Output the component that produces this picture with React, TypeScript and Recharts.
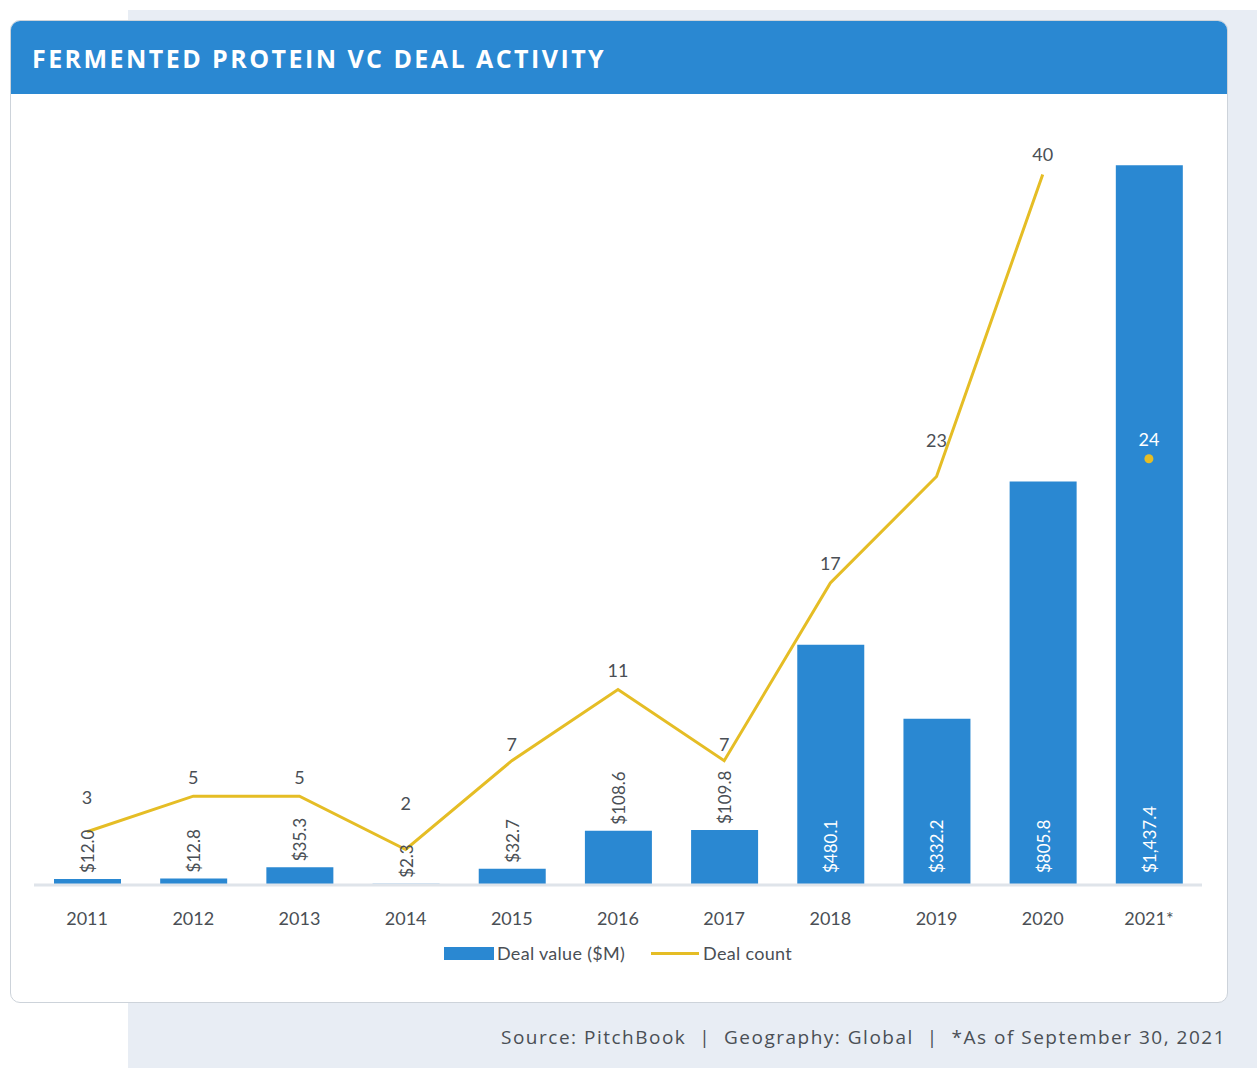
import React from "react";
import { ComposedChart, Bar, Line, XAxis, YAxis, Legend, LabelList } from "recharts";

const years = ["2011", "2012", "2013", "2014", "2015", "2016", "2017", "2018", "2019", "2020", "2021*"];
const dealValue = [12.0, 12.8, 35.3, 2.3, 32.7, 108.6, 109.8, 480.1, 332.2, 805.8, 1437.4];
const dealCount = [3, 5, 5, 2, 7, 11, 7, 17, 23, 40, null];
const partialCount = [null, null, null, null, null, null, null, null, null, null, 24];

// how far each count label sits above its point (dodges the bar labels)
const countLabelLift = [35, 19, 19, 46, 17, 20, 17, 20, 36, 21, 20];

const data = years.map((year, i) => ({
  year,
  value: dealValue[i],
  count: dealCount[i],
  partial: partialCount[i],
}));

const BLUE = "#2a88d2";
const YELLOW = "#e5bd25";
const TEXT = "#4a4f55";
const FONT = "Lato, 'Noto Sans', sans-serif";

const fmt = (v: number) =>
  "$" + v.toLocaleString("en-US", { minimumFractionDigits: 1, maximumFractionDigits: 1 });

const BarValueLabel = (props: any) => {
  const { x, y, width, height, value } = props;
  const cx = x + width / 2;
  const inside = value > 300;
  const startY = inside ? y + height - 12 : y - 6;
  return (
    <text
      x={cx}
      y={startY}
      transform={`rotate(-90 ${cx} ${startY})`}
      textAnchor="start"
      dominantBaseline="central"
      fill={inside ? "#ffffff" : TEXT}
      fontSize={17}
      fontFamily={FONT}
    >
      {fmt(value)}
    </text>
  );
};

const makeCountLabel = (color: string) => (props: any) => {
  const { x, y, value, index } = props;
  if (value == null) return null;
  return (
    <text
      x={x}
      y={y - countLabelLift[index]}
      textAnchor="middle"
      dominantBaseline="central"
      fill={color}
      fontSize={18}
      fontFamily={FONT}
    >
      {value}
    </text>
  );
};

const LegendContent = () => (
  <div
    style={{
      display: "flex",
      justifyContent: "center",
      alignItems: "center",
      fontFamily: FONT,
      fontSize: 18,
      color: TEXT,
      height: 30,
      position: "relative",
      top: -5,
    }}
  >
    <span style={{ display: "inline-block", width: 50, height: 13, background: BLUE, marginRight: 3 }} />
    <span style={{ letterSpacing: 0.3 }}>Deal value ($M)</span>
    <span style={{ display: "inline-block", width: 48, height: 3, background: YELLOW, margin: "0 4px 0 26px" }} />
    <span style={{ letterSpacing: 0.3 }}>Deal count</span>
  </div>
);

export default function App() {
  return (
    <div style={{ position: "absolute", left: 0, top: 0, width: 1257, height: 1068, background: "#fff", overflow: "hidden" }}>
      <div style={{ position: "absolute", left: 128, top: 10, width: 1129, height: 1058, background: "#e8edf4" }} />
      <div
        style={{
          position: "absolute",
          left: 10,
          top: 20,
          width: 1216,
          height: 981,
          background: "#fff",
          border: "1px solid #cdd3da",
          borderRadius: 10,
          overflow: "hidden",
        }}
      >
        <div style={{ height: 73, background: BLUE, position: "relative" }}>
          <div
            style={{
              position: "absolute",
              left: 21,
              top: 22,
              color: "#fff",
              fontFamily: "'Open Sans', 'Noto Sans', sans-serif",
              fontWeight: 700,
              fontSize: 25,
              letterSpacing: 2.45,
              lineHeight: "30px",
            }}
          >
            FERMENTED PROTEIN VC DEAL ACTIVITY
          </div>
        </div>
        <div style={{ position: "absolute", left: -1, top: 72 }}>
          <ComposedChart
            width={1218}
            height={900}
            data={data}
            margin={{ top: 46, right: 26, left: 24, bottom: 20 }}
            barCategoryGap="36%"
          >
            <XAxis
              dataKey="year"
              tickLine={false}
              tickSize={0}
              tickMargin={27}
              axisLine={{ stroke: "#dfe4ea", strokeWidth: 3 }}
              tick={{ fill: TEXT, fontSize: 18, fontFamily: FONT }}
              height={58}
              interval={0}
            />
            <YAxis yAxisId="val" hide domain={[0, 1490]} />
            <YAxis yAxisId="cnt" hide orientation="right" domain={[0, 42]} />
            <Legend verticalAlign="bottom" height={30} content={<LegendContent />} />
            <Bar yAxisId="val" dataKey="value" name="Deal value ($M)" fill={BLUE} barSize={67} isAnimationActive={false}>
              <LabelList dataKey="value" content={BarValueLabel} />
            </Bar>
            <Line
              yAxisId="cnt"
              dataKey="count"
              name="Deal count"
              stroke={YELLOW}
              strokeWidth={3}
              dot={false}
              activeDot={false}
              connectNulls={false}
              isAnimationActive={false}
            >
              <LabelList dataKey="count" content={makeCountLabel(TEXT)} />
            </Line>
            <Line
              yAxisId="cnt"
              dataKey="partial"
              stroke="none"
              dot={{ r: 4.5, fill: YELLOW, stroke: "none" }}
              activeDot={false}
              legendType="none"
              isAnimationActive={false}
            >
              <LabelList dataKey="partial" content={makeCountLabel("#ffffff")} />
            </Line>
          </ComposedChart>
        </div>
      </div>
      <div
        style={{
          position: "absolute",
          right: 31,
          top: 1024,
          fontFamily: "'Open Sans', 'Noto Sans', sans-serif",
          fontSize: 19,
          letterSpacing: 1.5,
          color: TEXT,
          lineHeight: "26px",
          whiteSpace: "pre",
        }}
      >
        {"Source: PitchBook  |  Geography: Global  |  *As of September 30, 2021"}
      </div>
    </div>
  );
}
